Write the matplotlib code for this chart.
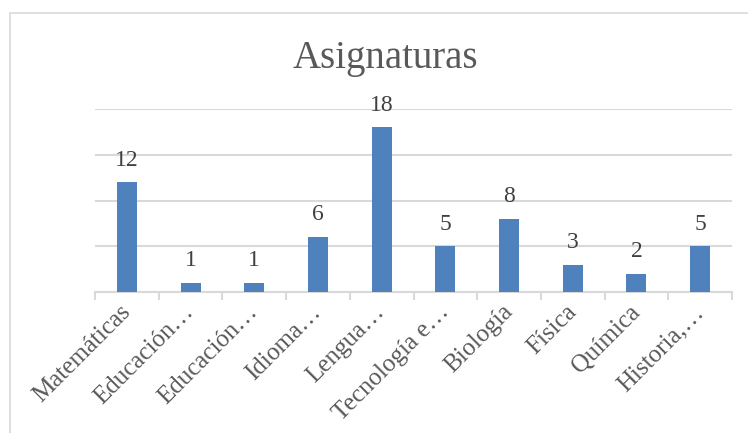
import numpy as np
import matplotlib
matplotlib.use("Agg")
import matplotlib.pyplot as plt
from matplotlib.patches import Rectangle

BLUE = "#4F81BD"
GRID = "#D9D9D9"
TEXT = "#595959"
LABEL = "#404040"

categories = ["Matemáticas", "Educación…", "Educación…", "Idioma…", "Lengua…",
              "Tecnología e…", "Biología", "Física", "Química", "Historia,…"]
values = [12, 1, 1, 6, 18, 5, 8, 3, 2, 5]
yticks = [0, 5, 10, 15, 20]

plt.rcParams['font.family'] = ['Liberation Serif', 'DejaVu Serif']

fig = plt.figure(figsize=(7.48, 4.33), dpi=100)
ax = fig.add_axes([95/748, 1 - 292/433, (732 - 95)/748, (292 - 109)/433])

xs = np.arange(len(categories))
bars = ax.bar(xs, values, width=0.314, color=BLUE, zorder=3)
for x, v in zip(xs, values):
    ax.annotate(str(v), (x, v), xytext=(0, 12), textcoords='offset points',
                ha='center', va='baseline', fontsize=17, color=LABEL, zorder=4)

ax.set_xlim(-0.5, len(categories) - 0.5)
ax.set_ylim(0, 20)
ax.set_yticks(yticks)
ax.yaxis.grid(True, color=GRID, lw=1.5, zorder=0)
ax.tick_params(axis='y', length=0, labelleft=False)

ax.set_xticks(xs)
ax.set_xticklabels(categories, rotation=45, ha='right', va='center',
                   rotation_mode='anchor', fontsize=18, color=TEXT)
ax.set_xticks(np.arange(-0.5, len(categories)), minor=True)
ax.tick_params(axis='x', which='major', length=0, pad=12)
ax.tick_params(axis='x', which='minor', length=6, width=1.5, color=GRID)

for s in ['top', 'left', 'right']:
    ax.spines[s].set_visible(False)
ax.spines['bottom'].set_color(GRID)
ax.spines['bottom'].set_linewidth(1.5)

fig.text(385/748, 1 - 68/433, "Asignaturas", ha='center', va='baseline',
         fontsize=28, color=TEXT)

fig.patches.append(Rectangle((10/748, -0.05), 1.0, 1 - 13/433 + 0.05,
                             transform=fig.transFigure, fill=False,
                             edgecolor=GRID, lw=1.2))

fig.savefig("out.png", dpi=100)
